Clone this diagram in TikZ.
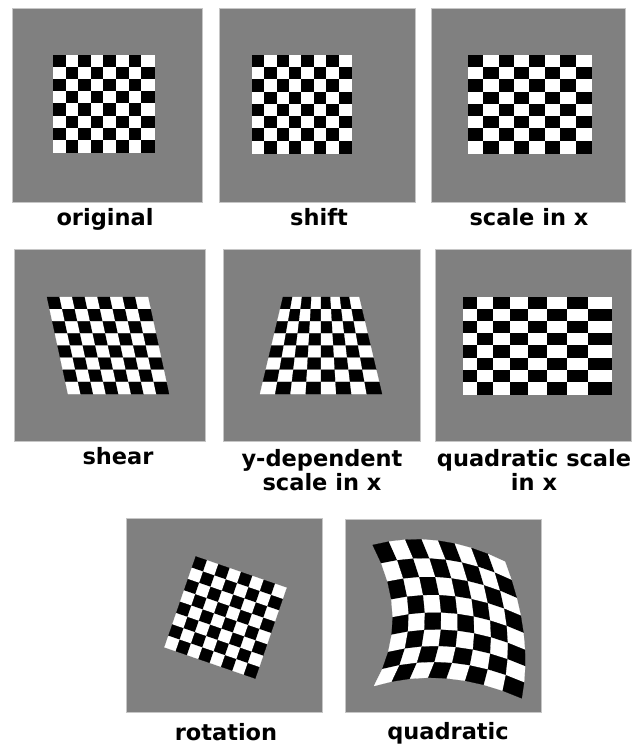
\documentclass[tikz,border=0pt]{standalone}
\usepackage{fontspec}
\setmainfont{DejaVu Sans}
\definecolor{panelgray}{RGB}{128,128,128}
\tikzset{
  panel/.style={fill=panelgray, draw=gray!45, line width=0.6pt},
  caption/.style={font=\bfseries\fontsize{22.5}{24}\selectfont, align=center,
                  anchor=base, inner sep=0pt},
  blackcell/.style={fill=black, draw=black, line width=0.2pt},
  whitecell/.style={fill=white, draw=white, line width=0.2pt},
}
% 8x8 board, cell corners from wx(u,v), wy(u,v) with u,v in [0,1]
\newcommand{\board}{%
  \foreach \col in {0,...,7}{%
    \foreach \row in {0,...,7}{%
      \pgfmathsetmacro\ua{\col/8}\pgfmathsetmacro\ub{(\col+1)/8}%
      \pgfmathsetmacro\va{\row/8}\pgfmathsetmacro\vb{(\row+1)/8}%
      \pgfmathtruncatemacro\odd{mod(\col+\row,2)}%
      \ifnum\odd=0 \def\cellstyle{blackcell}\else\def\cellstyle{whitecell}\fi
      \filldraw[\cellstyle] ({wx(\ua,\va)},{wy(\ua,\va)}) -- ({wx(\ub,\va)},{wy(\ub,\va)})
        -- ({wx(\ub,\vb)},{wy(\ub,\vb)}) -- ({wx(\ua,\vb)},{wy(\ua,\vb)}) -- cycle;
    }}}
\begin{document}
\begin{tikzpicture}[x=1pt, y=-1pt,
  declare function={lz(\t)=2*(\t-0.5)*(\t-1); lo(\t)=4*\t*(1-\t); lt(\t)=2*\t*(\t-0.5);}]
  \path[fill=white, use as bounding box] (0,0) rectangle (640,746);

  % --- Panels ---
  \path[panel] (12,8) rectangle (202,202);
  \path[panel] (219,8) rectangle (415,202);
  \path[panel] (431,8) rectangle (625,202);
  \path[panel] (14,249) rectangle (205,441);
  \path[panel] (223,249) rectangle (420,441);
  \path[panel] (435,249) rectangle (631,441);
  \path[panel] (126,518) rectangle (322,712);
  \path[panel] (345,519) rectangle (541,712);

  % --- Boards ---
  \begin{scope}[declare function={wx(\u,\v)=53+101*\u; wy(\u,\v)=55+97*\v;}]
    \board
  \end{scope}
  \begin{scope}[declare function={wx(\u,\v)=252+99*\u; wy(\u,\v)=55+98*\v;}]
    \board
  \end{scope}
  \begin{scope}[declare function={wx(\u,\v)=468+123*\u; wy(\u,\v)=55+98*\v;}]
    \board
  \end{scope}
  \begin{scope}[declare function={wx(\u,\v)=47+101*\u+21*\v; wy(\u,\v)=297+97*\v;}]
    \board
  \end{scope}
  \begin{scope}[declare function={wx(\u,\v)=321+(\u-0.5)*(76+46*\v); wy(\u,\v)=297+97*\v;}]
    \board
  \end{scope}
  \begin{scope}[declare function={wx(\u,\v)=463+110.8*\u+37.1*\u*\u; wy(\u,\v)=297+97*\v;}]
    \board
  \end{scope}
  \begin{scope}[declare function={
      wx(\u,\v)=225.5+(\u-0.5)*96*cos(19)-(\v-0.5)*96*sin(19);
      wy(\u,\v)=617.5+(\u-0.5)*96*sin(19)+(\v-0.5)*96*cos(19);}]
    \board
  \end{scope}
  \begin{scope}[declare function={
      wx(\u,\v)=372.7*lz(\u)*lz(\v)+438.3*lo(\u)*lz(\v)+505*lt(\u)*lz(\v)
               +392.7*lz(\u)*lo(\v)+457.5*lo(\u)*lo(\v)+523.5*lt(\u)*lo(\v)
               +374*lz(\u)*lt(\v)+446.7*lo(\u)*lt(\v)+521.7*lt(\u)*lt(\v);
      wy(\u,\v)=545*lz(\u)*lz(\v)+540.7*lo(\u)*lz(\v)+561.7*lt(\u)*lz(\v)
               +617.3*lz(\u)*lo(\v)+614*lo(\u)*lo(\v)+633*lt(\u)*lo(\v)
               +686*lz(\u)*lt(\v)+678.3*lo(\u)*lt(\v)+698.3*lt(\u)*lt(\v);}]
    \board
  \end{scope}

  % --- Captions ---
  \node[caption] (original) at (105,225) {original};
  \node[caption] (shift) at (319,225) {shift};
  \node[caption] (scalex) at (529,225) {scale in x};
  \node[caption] (shear) at (118,464) {shear};
  \node[caption] (ydep) at (322,490) {y-dependent\\scale in x};
  \node[caption] (quadx) at (534,490) {quadratic scale\\in x};
  \node[caption] (rotation) at (226,740) {rotation};
  \node[caption] (quadratic) at (448,739) {quadratic};
\end{tikzpicture}
\end{document}
